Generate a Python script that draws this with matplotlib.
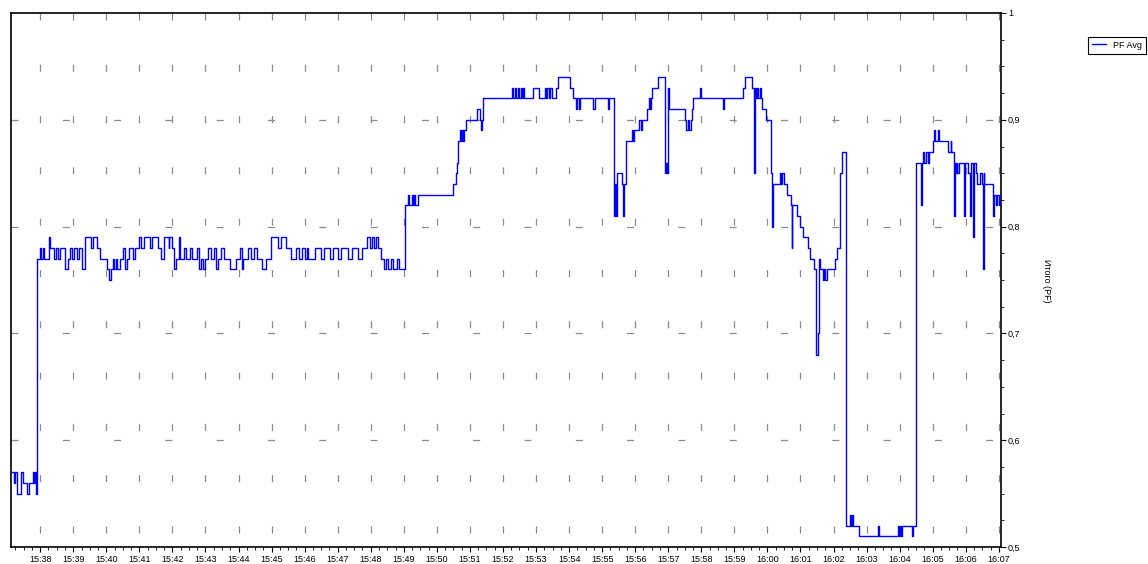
import matplotlib
matplotlib.use("Agg")
import matplotlib.pyplot as plt
import matplotlib.dates as mdates
from matplotlib.ticker import MultipleLocator, FuncFormatter
import pandas as pd

plt.rcParams['font.family'] = ['Liberation Sans', 'DejaVu Sans']
plt.rcParams['lines.scale_dashes'] = False

# ---------------- data ----------------
times = [
    "15:37:07", "15:37:13", "15:37:15", "15:37:18", "15:37:25", "15:37:29", "15:37:36", "15:37:40",
    "15:37:47", "15:37:49", "15:37:51", "15:37:53", "15:37:55", "15:38:00", "15:38:02", "15:38:05",
    "15:38:07", "15:38:16", "15:38:18", "15:38:25", "15:38:29", "15:38:33", "15:38:36", "15:38:45",
    "15:38:51", "15:38:54", "15:38:58", "15:39:02", "15:39:07", "15:39:11", "15:39:16", "15:39:22",
    "15:39:33", "15:39:36", "15:39:43", "15:39:49", "15:40:02", "15:40:05", "15:40:09", "15:40:12",
    "15:40:14", "15:40:18", "15:40:20", "15:40:25", "15:40:31", "15:40:34", "15:40:38", "15:40:42",
    "15:40:49", "15:40:52", "15:41:00", "15:41:03", "15:41:09", "15:41:20", "15:41:23", "15:41:34",
    "15:41:40", "15:41:45", "15:41:53", "15:41:54", "15:42:00", "15:42:03", "15:42:07", "15:42:12",
    "15:42:14", "15:42:21", "15:42:25", "15:42:32", "15:42:36", "15:42:45", "15:42:49", "15:42:52",
    "15:42:56", "15:43:00", "15:43:05", "15:43:10", "15:43:16", "15:43:19", "15:43:23", "15:43:29",
    "15:43:34", "15:43:45", "15:43:56", "15:44:03", "15:44:07", "15:44:08", "15:44:18", "15:44:23",
    "15:44:28", "15:44:34", "15:44:43", "15:44:49", "15:44:59", "15:45:12", "15:45:17", "15:45:26",
    "15:45:36", "15:45:45", "15:45:50", "15:45:56", "15:46:01", "15:46:05", "15:46:06", "15:46:19",
    "15:46:30", "15:46:35", "15:46:46", "15:46:52", "15:47:01", "15:47:06", "15:47:19", "15:47:26",
    "15:47:37", "15:47:44", "15:47:53", "15:47:58", "15:48:03", "15:48:06", "15:48:10", "15:48:13",
    "15:48:19", "15:48:24", "15:48:28", "15:48:32", "15:48:37", "15:48:41", "15:48:48", "15:48:52",
    "15:49:03", "15:49:08", "15:49:10", "15:49:14", "15:49:16", "15:49:19", "15:49:21", "15:49:26",
    "15:50:30", "15:50:35", "15:50:37", "15:50:39", "15:50:42", "15:50:44", "15:50:46", "15:50:48",
    "15:50:50", "15:50:53", "15:51:13", "15:51:19", "15:51:20", "15:51:22", "15:51:24", "15:52:17",
    "15:52:19", "15:52:22", "15:52:24", "15:52:28", "15:52:29", "15:52:33", "15:52:35", "15:52:37",
    "15:52:38", "15:52:55", "15:53:06", "15:53:17", "15:53:18", "15:53:20", "15:53:24", "15:53:26",
    "15:53:29", "15:53:37", "15:53:39", "15:54:02", "15:54:07", "15:54:13", "15:54:15", "15:54:18",
    "15:54:20", "15:54:44", "15:54:47", "15:55:11", "15:55:13", "15:55:22", "15:55:24", "15:55:25",
    "15:55:27", "15:55:36", "15:55:38", "15:55:40", "15:55:43", "15:55:54", "15:55:56", "15:55:58",
    "15:56:07", "15:56:11", "15:56:13", "15:56:22", "15:56:25", "15:56:27", "15:56:29", "15:56:31",
    "15:56:42", "15:56:54", "15:56:56", "15:56:58", "15:57:00", "15:57:02", "15:57:31", "15:57:32",
    "15:57:36", "15:57:38", "15:57:42", "15:57:44", "15:57:45", "15:57:58", "15:58:00", "15:58:40",
    "15:58:42", "15:59:16", "15:59:20", "15:59:32", "15:59:36", "15:59:38", "15:59:40", "15:59:42",
    "15:59:43", "15:59:47", "15:59:49", "15:59:51", "15:59:58", "16:00:07", "16:00:09", "16:00:11",
    "16:00:23", "16:00:25", "16:00:27", "16:00:31", "16:00:36", "16:00:42", "16:00:44", "16:00:45",
    "16:00:53", "16:01:00", "16:01:05", "16:01:13", "16:01:18", "16:01:24", "16:01:28", "16:01:29",
    "16:01:31", "16:01:33", "16:01:34", "16:01:36", "16:01:41", "16:01:43", "16:01:45", "16:01:49",
    "16:02:03", "16:02:07", "16:02:11", "16:02:12", "16:02:16", "16:02:23", "16:02:30", "16:02:32",
    "16:02:34", "16:02:36", "16:02:47", "16:03:21", "16:03:23", "16:03:57", "16:03:59", "16:04:01",
    "16:04:03", "16:04:05", "16:04:23", "16:04:25", "16:04:29", "16:04:30", "16:04:39", "16:04:41",
    "16:04:43", "16:04:45", "16:04:47", "16:04:52", "16:04:54", "16:05:01", "16:05:03", "16:05:05",
    "16:05:09", "16:05:11", "16:05:27", "16:05:33", "16:05:34", "16:05:38", "16:05:40", "16:05:42",
    "16:05:44", "16:05:45", "16:05:47", "16:05:56", "16:05:58", "16:06:05", "16:06:07", "16:06:09",
    "16:06:13", "16:06:15", "16:06:18", "16:06:20", "16:06:25", "16:06:29", "16:06:31", "16:06:33",
    "16:06:34", "16:06:49", "16:06:51", "16:06:55", "16:06:56", "16:07:00", "16:07:02", "16:07:04",
]
pf_avg = [
    0.57, 0.56, 0.57, 0.55, 0.57, 0.56, 0.55, 0.56,
    0.57, 0.56, 0.57, 0.55, 0.77, 0.78, 0.77, 0.78,
    0.77, 0.79, 0.78, 0.77, 0.78, 0.77, 0.78, 0.76,
    0.77, 0.78, 0.77, 0.78, 0.77, 0.78, 0.76, 0.79,
    0.78, 0.79, 0.78, 0.77, 0.76, 0.75, 0.76, 0.77,
    0.76, 0.77, 0.76, 0.77, 0.78, 0.76, 0.77, 0.78,
    0.77, 0.78, 0.79, 0.78, 0.79, 0.78, 0.79, 0.78,
    0.77, 0.79, 0.78, 0.79, 0.78, 0.76, 0.77, 0.79,
    0.77, 0.78, 0.77, 0.78, 0.77, 0.78, 0.76, 0.77,
    0.76, 0.77, 0.78, 0.77, 0.78, 0.76, 0.77, 0.78,
    0.77, 0.76, 0.77, 0.78, 0.76, 0.77, 0.78, 0.77,
    0.78, 0.77, 0.76, 0.77, 0.79, 0.78, 0.79, 0.78,
    0.77, 0.78, 0.77, 0.78, 0.77, 0.78, 0.77, 0.78,
    0.77, 0.78, 0.77, 0.78, 0.77, 0.78, 0.77, 0.78,
    0.77, 0.78, 0.79, 0.78, 0.79, 0.78, 0.79, 0.78,
    0.77, 0.76, 0.77, 0.76, 0.77, 0.76, 0.77, 0.76,
    0.82, 0.83, 0.82, 0.83, 0.82, 0.83, 0.82, 0.83,
    0.84, 0.85, 0.86, 0.88, 0.89, 0.88, 0.89, 0.88,
    0.89, 0.90, 0.91, 0.90, 0.89, 0.90, 0.92, 0.93,
    0.92, 0.93, 0.92, 0.93, 0.92, 0.93, 0.92, 0.93,
    0.92, 0.93, 0.92, 0.93, 0.92, 0.93, 0.92, 0.93,
    0.92, 0.93, 0.94, 0.93, 0.92, 0.91, 0.92, 0.91,
    0.92, 0.91, 0.92, 0.91, 0.92, 0.81, 0.84, 0.81,
    0.85, 0.84, 0.81, 0.84, 0.88, 0.89, 0.88, 0.89,
    0.90, 0.89, 0.90, 0.91, 0.92, 0.91, 0.92, 0.93,
    0.94, 0.85, 0.86, 0.85, 0.93, 0.91, 0.90, 0.89,
    0.90, 0.89, 0.90, 0.91, 0.92, 0.93, 0.92, 0.91,
    0.92, 0.93, 0.94, 0.93, 0.85, 0.93, 0.92, 0.93,
    0.92, 0.93, 0.92, 0.91, 0.90, 0.85, 0.80, 0.84,
    0.85, 0.84, 0.85, 0.84, 0.83, 0.82, 0.78, 0.82,
    0.81, 0.80, 0.79, 0.78, 0.77, 0.76, 0.72, 0.68,
    0.70, 0.74, 0.77, 0.76, 0.75, 0.76, 0.75, 0.76,
    0.77, 0.78, 0.80, 0.85, 0.87, 0.52, 0.53, 0.52,
    0.53, 0.52, 0.51, 0.52, 0.51, 0.52, 0.51, 0.52,
    0.51, 0.52, 0.51, 0.52, 0.72, 0.86, 0.82, 0.86,
    0.87, 0.86, 0.87, 0.86, 0.87, 0.88, 0.89, 0.88,
    0.89, 0.88, 0.87, 0.88, 0.87, 0.81, 0.86, 0.85,
    0.86, 0.85, 0.86, 0.81, 0.86, 0.85, 0.81, 0.86,
    0.79, 0.86, 0.85, 0.84, 0.85, 0.84, 0.76, 0.85,
    0.84, 0.81, 0.83, 0.82, 0.83, 0.82, 0.83, 0.83,
]
series_label = "PF Avg"
y_label = "Итого (PF)"
x_start, x_end = "15:37:07", "16:07:04"
day = "2024-01-01 "

# ---------------- figure ----------------
W, H = 1148, 564
fig = plt.figure(figsize=(W / 100, H / 100), dpi=100)
ax = fig.add_axes([11 / W, 17 / H, 990 / W, 534 / H])

t = pd.to_datetime([day + s for s in times])
xmin = mdates.date2num(pd.Timestamp(day + x_start))
xmax = mdates.date2num(pd.Timestamp(day + x_end))

line, = ax.step(t, pf_avg, where='post', color='#0000ff', lw=1.0, zorder=3, label=series_label)

ax.set_xlim(xmin, xmax)
ax.set_ylim(0.5, 1.0)

ax.xaxis.set_major_locator(mdates.MinuteLocator())
ax.xaxis.set_minor_locator(mdates.SecondLocator(bysecond=[15, 30, 45]))
ax.xaxis.set_major_formatter(mdates.DateFormatter('%H:%M'))

ax.yaxis.tick_right()
ax.yaxis.set_major_locator(MultipleLocator(0.1))
ax.yaxis.set_minor_locator(MultipleLocator(0.025))
ax.yaxis.set_major_formatter(FuncFormatter(lambda v, _: ('%g' % round(v, 2)).replace('.', ',')))

ax.tick_params(axis='x', which='major', direction='out', length=3.5, width=0.8,
               labelsize=6.5, pad=2, colors='black')
ax.tick_params(axis='x', which='minor', direction='out', length=2, width=0.6, colors='black')
ax.tick_params(axis='y', which='major', direction='out', length=3.5, width=0.8,
               labelsize=6.5, pad=1.5, left=False, right=True, colors='black')
ax.tick_params(axis='y', which='minor', direction='out', length=2, width=0.6,
               left=False, right=True, colors='black')

for s in ax.spines.values():
    s.set_color('black')
    s.set_linewidth(1.2)

# sparse dashed grid (dash pattern in points; 1 px = 0.72 pt)
dash = (0, (7 * 0.72, 44.3 * 0.72))
gcol = '#8c8c8c'
fig.canvas.draw()
for xv in ax.xaxis.get_majorticklocs():
    if xmin <= xv <= xmax:
        ax.plot([xv, xv], [1.0, 0.5], ls=dash, color=gcol, lw=0.9, zorder=1)
for yv in [0.6, 0.7, 0.8, 0.9]:
    ax.plot([xmin, xmax], [yv, yv], ls=dash, color=gcol, lw=0.9, zorder=1)
ax.set_xlim(xmin, xmax)
ax.set_ylim(0.5, 1.0)

fig.text(1047 / W, 1 - 281 / H, y_label, rotation=-90, ha='center', va='center', fontsize=6.5)

leg = fig.legend(handles=[line], labels=[series_label], loc='upper left',
                 bbox_to_anchor=(1088 / W, 1 - 36.5 / H), frameon=True, fancybox=False,
                 edgecolor='black', framealpha=1, fontsize=6.5, handlelength=1.5,
                 handletextpad=0.8, borderpad=0.45, borderaxespad=0)
leg.get_frame().set_linewidth(0.8)

fig.savefig('out.png', dpi=100)
